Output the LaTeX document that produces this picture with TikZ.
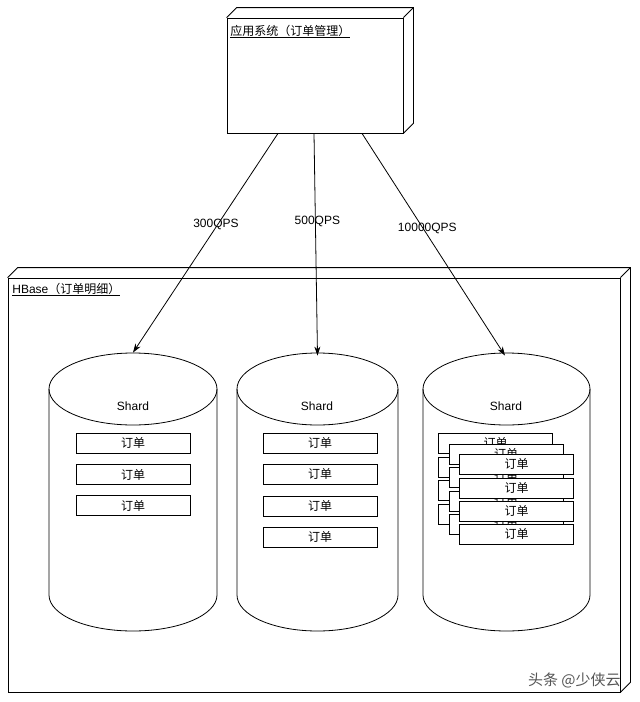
\documentclass[tikz,border=0pt]{standalone}
\usepackage{fontspec}
\setmainfont{Liberation Sans}
\newfontfamily\cjk{Noto Sans CJK SC}
\usetikzlibrary{arrows.meta}
\definecolor{wmark}{RGB}{85,85,85}
\newcommand\fsz{\fontsize{12}{14}\selectfont}
\newcommand\drawcyl[3]{%
  \pgfmathsetmacro\cx{(#1+#2)/2}%
  \pgfmathsetmacro\rx{(#2-#1)/2}%
  \pgfmathsetmacro\kx{0.5523*\rx}%
  \draw[cylline] (\cx,389) ellipse [x radius=\rx, y radius=36];
  \draw[cylline] (#1,389) -- (#1,595) .. controls (#1,614.9) and (\cx-\kx,631) .. (\cx,631)
     .. controls (\cx+\kx,631) and (#2,614.9) .. (#2,595) -- (#2,389);
  \node[inner sep=0pt, minimum width=\rx*2pt, minimum height=278pt] (#3) at (\cx,492) {};
}
\begin{document}
\begin{tikzpicture}[x=1pt,y=-1pt,
  line width=0.8pt,
  cylline/.style={draw=black, line width=0.8pt},
  ordbox/.style={draw=black, fill=white, inner sep=0pt, minimum width=114pt, minimum height=20pt, font=\fsz\cjk},
  frontface/.style={draw=black, inner sep=0pt},
  title/.style={anchor=base west, inner sep=0pt, font=\fsz},
  qps/.style={font=\fsz, inner sep=0pt},
  conn/.style={draw=black, line width=0.8pt, -{Stealth[length=9pt,width=6pt]}}]
\useasboundingbox (0,0) rectangle (640,702);
\fill[white] (0,0) rectangle (640,702);

% HBase box (3D)
\node[frontface, minimum width=612pt, minimum height=414pt] (hb) at (314,485) {};
\draw (hb.north west) -- ++(10,-10) -- ([shift={(10,-10)}]hb.north east) -- ([shift={(10,-10)}]hb.south east) -- (hb.south east);
\draw (hb.north east) -- ++(10,-10);
\node[title] (hbt) at (12,293) {\underline{HBase{\cjk（订单明细）}}};

% application box (3D)
\node[frontface, minimum width=176pt, minimum height=115pt] (app) at (315,75.5) {};
\draw (app.north west) -- ++(10,-10) -- ([shift={(10,-10)}]app.north east) -- ([shift={(10,-10)}]app.south east) -- (app.south east);
\draw (app.north east) -- ++(10,-10);
\node[title] (appt) at (230,35) {\underline{\cjk 应用系统（订单管理）}};

% cylinders
\drawcyl{49}{217}{cyl1}
\drawcyl{237}{398}{cyl2}
\drawcyl{423}{590}{cyl3}
\node[qps] (sh1) at (133,406) {Shard};
\node[qps] (sh2) at (317,406) {Shard};
\node[qps] (sh3) at (506,406) {Shard};

% orders shard 1
\node[ordbox] (o11) at (133,443) {订单};
\node[ordbox] (o12) at (133,474.5) {订单};
\node[ordbox] (o13) at (133,505.5) {订单};
% orders shard 2
\node[ordbox] (o21) at (320,443) {订单};
\node[ordbox] (o22) at (320,474) {订单};
\node[ordbox] (o23) at (320,506) {订单};
\node[ordbox] (o24) at (320,537) {订单};
% orders shard 3 (stacked)
\node[ordbox] (pa1) at (495.5,443) {订单};
\node[ordbox] (pa2) at (495.5,467) {订单};
\node[ordbox] (pa3) at (495.5,490) {订单};
\node[ordbox] (pa4) at (495.5,514) {订单};
\node[ordbox] (pb1) at (506,454) {订单};
\node[ordbox] (pb2) at (506,477) {订单};
\node[ordbox] (pb3) at (506,501) {订单};
\node[ordbox] (pb4) at (506,524) {订单};
\node[ordbox] (pc1) at (516.5,464) {订单};
\node[ordbox] (pc2) at (516.5,488) {订单};
\node[ordbox] (pc3) at (516.5,511) {订单};
\node[ordbox] (pc4) at (516.5,534) {订单};

% connectors
\draw[conn] ([xshift=-37pt]app.south) -- node[qps, pos=0.414, xshift=-2pt] (q1) {300QPS} (cyl1.north);
\draw[conn] ([xshift=-1pt]app.south) -- node[qps, pos=0.396, xshift=2pt] (q2) {500QPS} ([yshift=-3pt]cyl2.north);
\draw[conn] ([xshift=47pt]app.south) -- node[qps, pos=0.429, xshift=4pt] (q3) {10000QPS} ([xshift=-1.5pt,yshift=-3pt]cyl3.north);

% watermark
\node[anchor=base east, inner sep=0pt, text=wmark, font={\fontsize{15}{17}\selectfont\cjk}] (wm) at (621,685) {头条 @少侠云};
\end{tikzpicture}
\end{document}
